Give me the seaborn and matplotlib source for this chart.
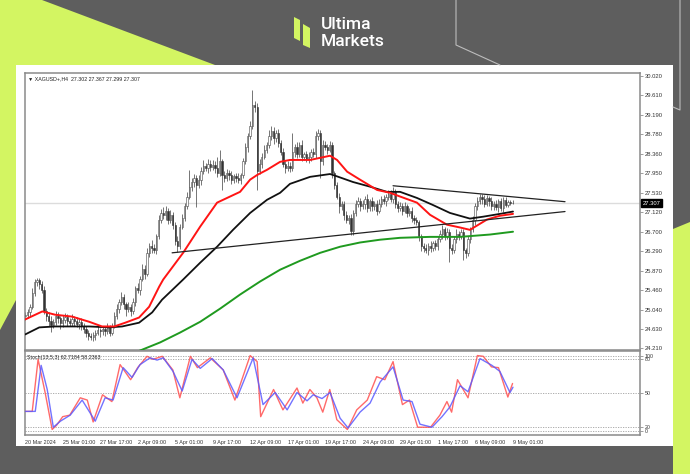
import numpy as np
import matplotlib
matplotlib.use("Agg")
import matplotlib.pyplot as plt
import matplotlib.transforms as mtransforms
from matplotlib.patches import Polygon, Rectangle
import seaborn as sns

sns.set_style("white")
plt.rcParams["font.family"] = ["Liberation Sans", "DejaVu Sans"]

W, H = 690, 474

# ---------------------------------------------------------------------------
# Data (bar index 0 = 20 Mar 2024)
# ---------------------------------------------------------------------------
OPEN_FIRST = 24.90
CLOSE = [
    24.93, 24.98, 25.10, 25.40, 25.62, 25.66, 25.58, 25.45, 25.02, 24.90,
    24.80, 24.72, 24.78, 24.90, 24.85, 24.75, 24.82, 24.88, 24.80, 24.76,
    24.84, 24.80, 24.74, 24.78, 24.70, 24.62, 24.55, 24.48, 24.45, 24.50,
    24.55, 24.60, 24.58, 24.62, 24.58, 24.66, 24.55, 24.70, 24.90, 25.05,
    25.20, 25.30, 25.15, 25.05, 25.10, 25.00, 25.20, 25.50, 25.45, 25.70,
    25.90, 25.80, 26.25, 26.40, 26.35, 26.30, 26.60, 26.95, 27.10, 27.05,
    27.15, 26.95, 27.05, 26.85, 26.50, 26.40, 26.80, 27.00, 27.25, 27.45,
    27.65, 27.75, 27.85, 27.70, 27.80, 28.00, 28.10, 28.05, 28.15, 28.08,
    28.12, 28.05, 27.95, 28.20, 27.90, 27.85, 27.95, 27.90, 27.80, 27.88,
    27.85, 27.80, 27.90, 28.20, 28.50, 28.75, 28.95, 29.40, 29.35, 28.00,
    28.15, 28.30, 28.45, 28.55, 28.75, 28.85, 28.70, 28.80, 28.60, 28.40,
    28.15, 28.05, 28.10, 28.05, 28.40, 28.50, 28.35, 28.55, 28.30, 28.35,
    28.25, 28.30, 28.40, 28.35, 28.75, 28.80, 28.20, 28.55, 28.50, 28.45,
    28.55, 27.95, 27.70, 27.45, 27.25, 27.30, 27.05, 26.95, 27.00, 26.72,
    27.10, 27.30, 27.35, 27.25, 27.30, 27.40, 27.20, 27.35, 27.25, 27.30,
    27.15, 27.30, 27.40, 27.35, 27.45, 27.50, 27.40, 27.55, 27.30, 27.20,
    27.25, 27.15, 27.25, 27.10, 27.15, 27.00, 26.95, 26.90, 26.60, 26.40,
    26.35, 26.30, 26.40, 26.35, 26.45, 26.40, 26.55, 26.65, 26.75, 26.60,
    26.70, 26.35, 26.30, 26.55, 26.65, 26.60, 26.70, 26.30, 26.25, 26.55,
    26.75, 26.95, 27.25, 27.35, 27.45, 27.40, 27.30, 27.42, 27.35, 27.25,
    27.30, 27.22, 27.35, 27.20, 27.38, 27.28, 27.33, 27.302, 27.307,
]
WICK_UP = [
    .06, .08, .05, .10, .08, .06, .05, .07, .10, .06,
    .08, .10, .06, .12, .08, .06, .10, .08, .07, .06,
    .10, .06, .08, .05, .07, .06, .08, .05, .06, .07,
    .06, .08, .05, .07, .06, .10, .05, .06, .08, .10,
    .06, .12, .08, .05, .10, .06, .08, .05, .10, .06,
    .12, .08, .10, .06, .12, .08, .06, .10, .08, .12,
    .10, .06, .12, .08, .05, .10, .06, .08, .06, .10,
    .37, .10, .08, .06, .10, .08, .12, .06, .10, .08,
    .10, .08, .25, .25, .06, .10, .08, .06, .10, .06,
    .08, .10, .06, .08, .10, .06, .10, .32, .08, .10,
    .10, .08, .10, .06, .12, .10, .08, .06, .10, .06,
    .08, .06, .10, .08, .40, .08, .12, .06, .10, .06,
    .08, .10, .06, .08, .10, .08, .06, .10, .08, .06,
    .08, .06, .05, .06, .08, .05, .06, .10, .05, .08,
    .06, .08, .10, .06, .08, .06, .10, .05, .08, .06,
    .08, .10, .06, .08, .06, .10, .08, .10, .06, .05,
    .08, .06, .08, .05, .06, .08, .05, .06, .05, .06,
    .06, .08, .05, .10, .06, .08, .06, .08, .10, .06,
    .08, .05, .08, .06, .10, .06, .05, .06, .05, .06,
    .06, .08, .06, .08, .06, .05, .08, .06, .05, .08,
    .06, .08, .05, .06, .05, .06, .05, .04, .06,
]
WICK_DN = [
    .08, .06, .08, .05, .06, .08, .10, .06, .08, .10,
    .12, .15, .08, .06, .10, .12, .08, .06, .10, .08,
    .06, .10, .08, .12, .10, .08, .10, .08, .06, .08,
    .10, .06, .12, .08, .10, .06, .08, .06, .05, .06,
    .08, .06, .10, .15, .06, .10, .05, .08, .06, .10,
    .06, .10, .05, .08, .10, .06, .08, .05, .06, .08,
    .10, .08, .06, .10, .08, .13, .06, .05, .08, .06,
    .06, .08, .10, .47, .06, .10, .08, .06, .10, .08,
    .06, .10, .08, .06, .31, .08, .06, .10, .08, .06,
    .10, .06, .08, .05, .06, .10, .08, .06, .10, .41,
    .08, .10, .06, .08, .06, .10, .12, .08, .10, .06,
    .08, .10, .06, .08, .06, .10, .08, .06, .10, .08,
    .06, .08, .10, .06, .08, .10, .35, .08, .06, .10,
    .06, .10, .08, .06, .15, .08, .10, .06, .08, .08,
    .10, .06, .08, .10, .06, .12, .08, .06, .10, .08,
    .10, .06, .08, .06, .10, .08, .06, .08, .10, .08,
    .06, .10, .06, .08, .06, .10, .08, .06, .10, .12,
    .08, .06, .10, .08, .06, .10, .08, .06, .10, .08,
    .06, .30, .08, .06, .10, .08, .06, .20, .12, .06,
    .08, .06, .10, .08, .06, .10, .08, .06, .10, .08,
    .08, .06, .10, .06, .08, .06, .05, .04, .003,
]

# moving averages (bar index, price)
RED_IDX = [0, 7.3, 12.8, 20, 27.3, 32.8, 38, 42.7, 48.6, 52.9,
           57.2, 58.9, 67.4, 74.7, 81.9, 91.7, 96, 99, 103.2, 108.8,
           113, 121.6, 130.1, 133.1, 137.4, 142.9, 150.2, 155.7, 160, 167.2,
           172.8, 180, 185.6, 189.8, 192.8, 197.1, 202.6, 208.2]
RED_MA = [24.83, 25.00, 24.93, 24.89, 24.78, 24.68, 24.68, 24.76, 24.87, 25.10,
          25.53, 25.68, 26.25, 26.81, 27.32, 27.55, 27.81, 27.91, 28.02, 28.19,
          28.23, 28.23, 28.32, 28.23, 27.98, 27.81, 27.59, 27.53, 27.45, 27.32,
          27.06, 26.85, 26.79, 26.74, 26.83, 26.96, 27.04, 27.08]
BLACK_IDX = [0, 6, 12.8, 27.3, 35.8, 41.4, 48.6, 54.2, 58.4, 67.4,
             74.7, 81.9, 88.7, 96, 103.2, 108.8, 113, 121.6, 130.1, 133.1,
             139.9, 147.2, 154.4, 160, 167.2, 174, 181.3, 189.8, 195.4, 202.6,
             208.2]
BLACK_MA = [24.51, 24.66, 24.68, 24.68, 24.66, 24.68, 24.76, 24.98, 25.25, 25.68,
            26.04, 26.38, 26.74, 27.10, 27.38, 27.53, 27.72, 27.87, 27.93, 27.88,
            27.76, 27.66, 27.55, 27.55, 27.42, 27.27, 27.10, 26.98, 27.02, 27.08,
            27.13]
GREEN_IDX = [48.2, 57.6, 66.1, 74.7, 83.2, 91.7, 100.3, 108.8, 117.3, 125.9,
             134.4, 142.9, 151.5, 160, 172.8, 185.6, 198.4, 208.2]
GREEN_MA = [24.15, 24.34, 24.55, 24.78, 25.06, 25.36, 25.64, 25.89, 26.08, 26.25,
            26.38, 26.47, 26.53, 26.57, 26.59, 26.59, 26.64, 26.70]

# hand-drawn trend lines
SUPPORT_IDX = [62.7, 230.4]
SUPPORT = [26.25, 27.13]
RESIST_IDX = [157, 230.4]
RESIST = [27.68, 27.34]

# stochastic oscillator
K_IDX = [0, 3, 5.5, 8.5, 11.5, 13.5, 16, 19, 23.5, 26.5,
         29, 33, 37, 40.5, 45, 48, 52, 54.5, 58.5, 63,
         66, 70.5, 73.5, 79, 84.5, 89.5, 96, 99, 100.5, 106,
         110, 116, 118.5, 121.5, 124.5, 127, 130, 133, 137.5, 141.5,
         146, 150, 153.5, 157, 161, 164, 167.5, 173, 177, 180,
         182, 184.5, 189, 193, 195.5, 199, 202, 206, 208]
K_VAL = [26, 26, 95, 51, 2, 8, 19, 21, 44, 41,
         12, 48, 39, 88, 68, 84, 99, 95, 99, 81,
         44, 99, 84, 97, 81, 41, 100, 92, 19, 55,
         28, 57, 37, 55, 44, 25, 55, 15, 2, 28,
         41, 72, 68, 92, 35, 41, 5, 5, 21, 39,
         25, 68, 44, 100, 99, 85, 84, 45, 63]
D_IDX = [0, 4.3, 6.8, 9.4, 12, 15, 19.2, 24.3, 29.9, 34.1,
         37.5, 41.8, 45.6, 49, 53.3, 56.3, 58.9, 63.1, 67, 71.2,
         74.7, 79.8, 84.5, 90.4, 97.3, 101.5, 106.7, 111.8, 116, 120.3,
         122.9, 126.7, 130.1, 134.4, 137.8, 142.9, 147.2, 151.5, 157, 161.3,
         165.1, 168.5, 173.6, 177.9, 181.3, 185.6, 189, 194.1, 199.2, 202.6,
         206.9, 208.2]
D_VAL = [26, 26, 87, 55, 5, 13, 21, 41, 13, 44,
         41, 84, 71, 88, 97, 94, 97, 79, 53, 95,
         83, 96, 81, 44, 97, 35, 51, 28, 51, 40,
         48, 43, 51, 17, 4, 25, 37, 65, 85, 41,
         39, 9, 5, 19, 32, 60, 52, 96, 87, 79,
         51, 58]
STOCH_LEVELS = [0, 5, 50, 95, 100]

PRICE_TICKS = [30.020, 29.610, 29.190, 28.780, 28.360, 27.950, 27.530, 27.120,
               26.700, 26.290, 25.870, 25.460, 25.040, 24.630, 24.210]
LAST_PRICE = 27.307
DATE_IDX = [0, 16, 32, 48, 64, 80, 96, 112, 128, 144, 160, 176, 192, 208]
DATE_LABELS = ["20 Mar 2024", "25 Mar 01:00", "27 Mar 17:00", "2 Apr 09:00",
               "5 Apr 01:00", "9 Apr 17:00", "12 Apr 09:00", "17 Apr 01:00",
               "19 Apr 17:00", "24 Apr 09:00", "29 Apr 01:00", "1 May 17:00",
               "6 May 09:00", "9 May 01:00"]

LIME = "#d3f562"
DARK = "#5e5e5e"
TXT = 4.2


def frac(l, t, r, b):
    return [l / W, 1 - b / H, (r - l) / W, (b - t) / H]


fig = plt.figure(figsize=(W / 100, H / 100), dpi=100)
fig.patch.set_facecolor(DARK)

# ---------------------------------------------------------------------------
# branded frame
# ---------------------------------------------------------------------------
bg = fig.add_axes([0, 0, 1, 1])
bg.set_xlim(0, W)
bg.set_ylim(H, 0)
bg.axis("off")
bg.add_patch(Polygon([(0, 0), (42, 0), (215, 65), (16, 65), (16, 300), (0, 330)],
                     closed=True, color=LIME, lw=0))
bg.add_patch(Polygon([(673, 229), (690, 222), (690, 474), (673, 474)],
                     closed=True, color=LIME, lw=0))
bg.plot([456, 456, 500], [0, 45, 65], color="#bdbdbd", lw=0.8)
bg.plot([680, 680, 673], [0, 110, 107], color="#bdbdbd", lw=0.8)
bg.add_patch(Rectangle((16, 65), 657, 381, color="white", lw=0))
# logo
bg.add_patch(Polygon([(294, 17), (300, 20), (300, 41), (294, 38)], color=LIME, lw=0))
bg.add_patch(Polygon([(303, 24), (310, 28), (310, 48), (303, 45)], color=LIME, lw=0))
bg.text(321, 24, "Ultima", color="white", fontsize=12.5, family=["Roboto", "DejaVu Sans"],
        fontweight="medium", va="center", ha="left")
bg.text(321, 41, "Markets", color="white", fontsize=12.5, family=["Roboto", "DejaVu Sans"],
        fontweight="medium", va="center", ha="left")

# ---------------------------------------------------------------------------
# price panel
# ---------------------------------------------------------------------------
ax = fig.add_axes(frac(24.5, 73, 640, 350))
x = np.arange(len(CLOSE))
close = np.array(CLOSE)
opens = np.r_[OPEN_FIRST, close[:-1]]
top = np.maximum(opens, close)
bot = np.minimum(opens, close)
hi = top + np.array(WICK_UP)
lo = bot - np.array(WICK_DN)
body = np.maximum(top - bot, 0.012)
up = close >= opens

ax.axhline(LAST_PRICE, color="#dcdcdc", lw=1, zorder=1)
ax.vlines(x, lo, hi, color="#505050", lw=0.55, zorder=2)
ax.bar(x[up], body[up], bottom=bot[up], width=0.55, color="white",
       edgecolor="#444444", linewidth=0.4, zorder=3)
ax.bar(x[~up], body[~up], bottom=bot[~up], width=0.55, color="#333333",
       edgecolor="#333333", linewidth=0.4, zorder=3)

sns.lineplot(x=GREEN_IDX, y=GREEN_MA, ax=ax, color="#1f9a1f", lw=1.4, estimator=None, zorder=4)
sns.lineplot(x=BLACK_IDX, y=BLACK_MA, ax=ax, color="#111111", lw=1.3, estimator=None, zorder=4)
sns.lineplot(x=RED_IDX, y=RED_MA, ax=ax, color="#ff1414", lw=1.4, estimator=None, zorder=5)
sns.lineplot(x=SUPPORT_IDX, y=SUPPORT, ax=ax, color="#222222", lw=0.9, estimator=None, zorder=6)
sns.lineplot(x=RESIST_IDX, y=RESIST, ax=ax, color="#222222", lw=0.9, estimator=None, zorder=6)

ax.set_xlim(-0.3, 262.4)
ax.set_ylim(24.178, 30.084)
ax.set_xticks([])
ax.yaxis.tick_right()
ax.set_yticks(PRICE_TICKS)
ax.set_yticklabels([f"{v:.3f}" for v in PRICE_TICKS])
ax.tick_params(axis="y", length=2, width=0.5, color="#777777", labelsize=TXT,
               labelcolor="#333333", pad=1.5)
ax.set(xlabel="", ylabel="")
for s in ax.spines.values():
    s.set_color("#8a8a8a")
    s.set_linewidth(1.1)
ax.text(0.006, 0.988, "\u25bc XAGUSD+,H4  27.302 27.367 27.299 27.307",
        transform=ax.transAxes, fontsize=3.8, va="top", ha="left", color="#222222")
trans = mtransforms.blended_transform_factory(ax.transAxes, ax.transData)
ax.text(1.004, LAST_PRICE, "27.307", transform=trans, fontsize=TXT, color="white",
        va="center", ha="left",
        bbox=dict(boxstyle="square,pad=0.25", fc="black", ec="black"))

# ---------------------------------------------------------------------------
# stochastic panel
# ---------------------------------------------------------------------------
ax2 = fig.add_axes(frac(24.5, 350.5, 640, 435))
for lvl in STOCH_LEVELS:
    ax2.axhline(lvl, color="#a0a0a0", lw=0.6, ls=(0, (1.5, 1.5)), zorder=1)
sns.lineplot(x=K_IDX, y=K_VAL, ax=ax2, color="#ff5050", lw=1.0, alpha=0.85,
             estimator=None, zorder=3)
sns.lineplot(x=D_IDX, y=D_VAL, ax=ax2, color="#5a5aff", lw=1.0, alpha=0.85,
             estimator=None, zorder=3)
ax2.set_xlim(-0.3, 262.4)
ax2.set_ylim(-5.3, 106.7)
ax2.yaxis.tick_right()
ax2.set_yticks([100, 95, 50, 5, 0])
ax2.set_yticklabels(["100", "80", "50", "20", "0"])
ax2.tick_params(axis="y", length=2, width=0.5, color="#777777", labelsize=3.8,
                labelcolor="#333333", pad=1.5)
ax2.set_xticks(DATE_IDX)
ax2.set_xticklabels(DATE_LABELS, ha="left")
ax2.tick_params(axis="x", length=2, width=0.5, color="#777777", labelsize=3.9,
                labelcolor="#333333", pad=1.5)
ax2.set(xlabel="", ylabel="")
for s in ax2.spines.values():
    s.set_color("#8a8a8a")
    s.set_linewidth(1.1)
ax2.text(0.004, 0.95, "Stoch(13,5,3) 62.7184 58.2363", transform=ax2.transAxes,
         fontsize=3.8, va="top", ha="left", color="#222222")

fig.savefig("out.png", dpi=100, facecolor=fig.get_facecolor())
